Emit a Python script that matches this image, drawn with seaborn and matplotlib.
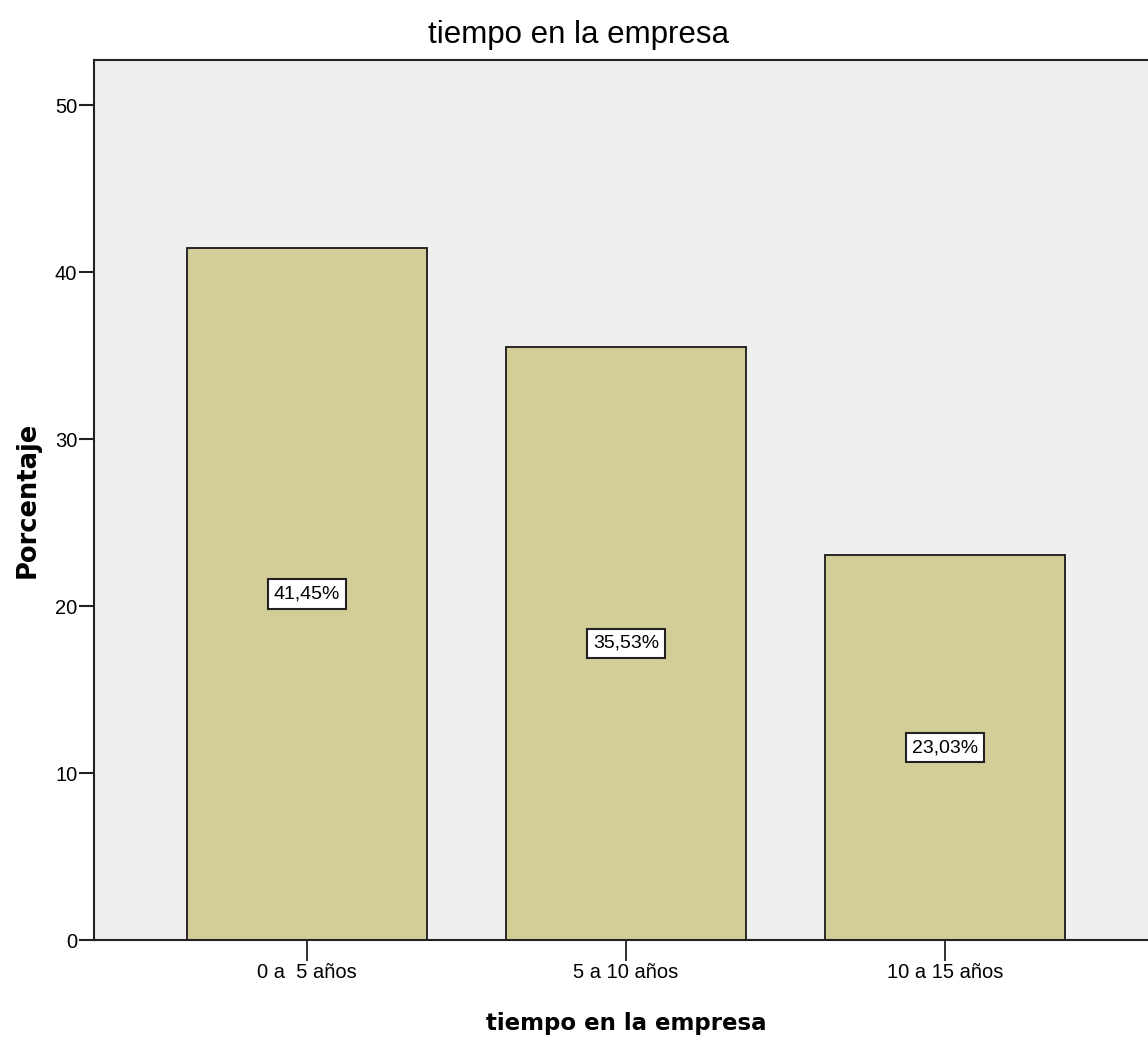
import matplotlib
matplotlib.use("Agg")
import matplotlib.pyplot as plt
import seaborn as sns
import pandas as pd

categorias = ["0 a  5 años", "5 a 10 años", "10 a 15 años"]
porcentajes = [41.45, 35.53, 23.03]
etiquetas = ["41,45%", "35,53%", "23,03%"]
yticks = [0, 10, 20, 30, 40, 50]

df = pd.DataFrame({"tiempo": categorias, "pct": porcentajes})

sns.set_theme(style="white")
plt.rcParams["font.family"] = ["Liberation Sans", "DejaVu Sans"]
plt.rcParams["text.color"] = "black"
plt.rcParams["axes.labelcolor"] = "black"
plt.rcParams["xtick.color"] = "black"
plt.rcParams["ytick.color"] = "black"

fig = plt.figure(figsize=(11.48, 10.42), dpi=100)
ax = fig.add_axes([94 / 1148, 1 - 940 / 1042, (1158 - 94) / 1148, (940 - 60) / 1042])
ax.set_facecolor("#EFEFEF")

sns.barplot(data=df, x="tiempo", y="pct", color="#D3CE97", width=0.75,
            edgecolor="#1a1a1a", linewidth=1.3, saturation=1, ax=ax)

for i, (v, t) in enumerate(zip(porcentajes, etiquetas)):
    ax.text(i, v / 2, t, ha="center", va="center", fontsize=14, color="black",
            bbox=dict(boxstyle="square,pad=0.32", fc="white", ec="#222222", lw=1.5))

ax.set_xlim(-0.668, 2.668)
ax.set_ylim(0, 52.7)
ax.set_yticks(yticks)
ax.set_yticklabels([str(t) for t in yticks])
ax.tick_params(axis="y", direction="out", length=11, width=1.5, labelsize=14.5, pad=1,
               left=True, color="#222222", labelcolor="black")
ax.tick_params(axis="x", direction="out", length=15, width=1.3, labelsize=14.5, pad=1.5,
               bottom=True, color="#222222", labelcolor="black")

for s in ax.spines.values():
    s.set_color("#222222")
    s.set_linewidth(1.5)
ax.spines["right"].set_visible(False)

ax.set_xlabel("tiempo en la empresa", fontsize=16.5, fontweight="bold",
              family=["DejaVu Sans"], labelpad=22, color="black")
ax.set_ylabel("Porcentaje", fontsize=18.5, fontweight="bold",
              family=["DejaVu Sans"], labelpad=10, color="black")
ax.set_title("tiempo en la empresa", fontsize=22.5, color="black", pad=12,
             x=0.455)

fig.savefig("out.png", dpi=100, facecolor="white")
